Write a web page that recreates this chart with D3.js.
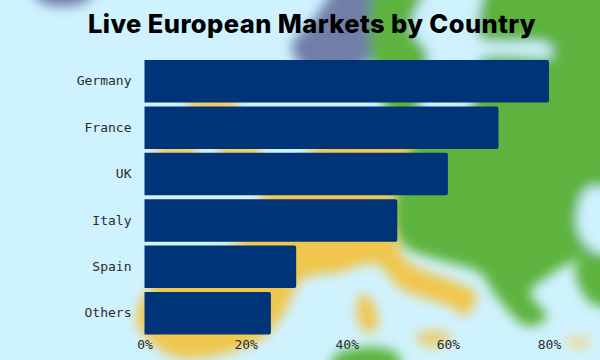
<!DOCTYPE html>
<html>
<head>
<meta charset="utf-8">
<script src="https://cdn.jsdelivr.net/npm/d3@7"></script>
<style>
  html, body { margin: 0; padding: 0; background: #cff2ff; }
  svg { display: block; }
  .title { font-family: Inter, sans-serif; font-weight: 800; font-size: 25.5px; letter-spacing: 0.42px; fill: #000; }
  .tick text { font-family: "DejaVu Sans Mono", monospace; font-size: 13px; fill: #2b2b2b; }
</style>
</head>
<body>
<div id="chart"></div>
<script>
const countries = ['Germany', 'France', 'UK', 'Italy', 'Spain', 'Others']
const shares = [80, 70, 60, 50, 30, 25]
const xTicks = [0, 20, 40, 60, 80]

const width = 600
const height = 360
const margin = { top: 60, right: 51, bottom: 25.5, left: 144.5 }

const sea = '#cff2ff'
const land = '#5db33d'
const sand = '#f0c64d'
const slate = '#717fa8'

// blurred map behind the chart, rough outlines only
const mapShapes = [
  { fill: slate, pts: [[345,-20],[384,-20],[378,25],[370,60],[340,72],[302,66],[292,45],[312,22]] },
  { fill: slate, pts: [[30,-20],[100,-20],[85,2],[55,6],[38,0]] },
  { fill: land, pts: [[382,-20],[620,-20],[620,252],[577,260],[547,277],[530,293],[547,317],[527,326],[497,297],[480,273],[440,260],[403,245],[393,210],[408,150],[384,104],[372,60]] },
  { fill: sea, pts: [[438,-20],[482,-20],[478,20],[480,38],[548,44],[552,56],[480,60],[468,112],[422,112],[428,55],[412,28]] },
  { fill: sea, pts: [[588,188],[620,195],[620,255],[592,250],[577,225]] },
  { fill: land, pts: [[576,265],[620,255],[620,305],[590,302]] },
  { fill: land, pts: [[337,354],[395,352],[400,380],[330,380]] },
  { fill: sand, pts: [[188,99],[237,99],[237,109],[188,109]] },
  { fill: sand, pts: [[157,146],[197,146],[197,156],[157,156]] },
  { fill: sand, pts: [[218,146],[260,146],[260,156],[218,156]] },
  { fill: sand, pts: [[332,140],[410,140],[392,200],[397,245],[408,262],[477,295],[463,316],[455,309],[400,288],[376,264],[340,272],[302,280],[284,313],[260,340],[200,358],[167,354],[137,322],[150,288],[240,240],[265,190]] },
  { fill: sand, pts: [[362,293],[374,305],[377,328],[367,333],[357,315]] },
  { fill: '#eccf75', pts: [[415,335],[445,331],[450,342],[425,347]] },
  { fill: '#ecdca0', pts: [[565,339],[588,337],[590,346],[570,348]] }
]

const svg = d3.select('#chart').append('svg')
  .attr('width', width)
  .attr('height', height)

svg.append('defs').append('filter')
  .attr('id', 'soft')
  .attr('x', '-20%').attr('y', '-20%').attr('width', '140%').attr('height', '140%')
  .append('feGaussianBlur')
  .attr('stdDeviation', 6)

svg.append('rect')
  .attr('width', width)
  .attr('height', height)
  .attr('fill', sea)

let outline = d3.line().curve(d3.curveCatmullRomClosed.alpha(0.5))

svg.append('g')
  .attr('filter', 'url(#soft)')
  .selectAll('path')
  .data(mapShapes)
  .enter().append('path')
  .attr('d', d => outline(d.pts))
  .attr('fill', d => d.fill)

svg.append('text')
  .attr('class', 'title')
  .attr('x', 312)
  .attr('y', 33)
  .attr('text-anchor', 'middle')
  .text('Live European Markets by Country')

let x = d3.scaleLinear()
  .domain([0, 80])
  .range([margin.left, width - margin.right])

let y = d3.scaleBand()
  .domain(countries)
  .range([margin.top, height - margin.bottom])
  .paddingInner(0.084)
  .paddingOuter(0)

let r = 2
let bars = countries.map((c, i) => ({ country: c, share: shares[i] }))

svg.append('g')
  .selectAll('path')
  .data(bars)
  .enter().append('path')
  .attr('fill', '#003478')
  .attr('d', d => {
    let x0 = x(0), x1 = x(d.share), y0 = y(d.country), y1 = y0 + y.bandwidth()
    return `M${x0},${y0}H${x1 - r}Q${x1},${y0} ${x1},${y0 + r}V${y1 - r}Q${x1},${y1} ${x1 - r},${y1}H${x0}Z`
  })

let yAxis = svg.append('g')
  .attr('transform', `translate(${margin.left},0)`)
  .call(d3.axisLeft(y).tickSize(0).tickPadding(13))
yAxis.select('.domain').remove()

let xAxis = svg.append('g')
  .attr('transform', `translate(0,${height - margin.bottom})`)
  .call(d3.axisBottom(x).tickValues(xTicks).tickFormat(d => d + '%').tickSize(0).tickPadding(5))
xAxis.select('.domain').remove()
</script>
</body>
</html>
